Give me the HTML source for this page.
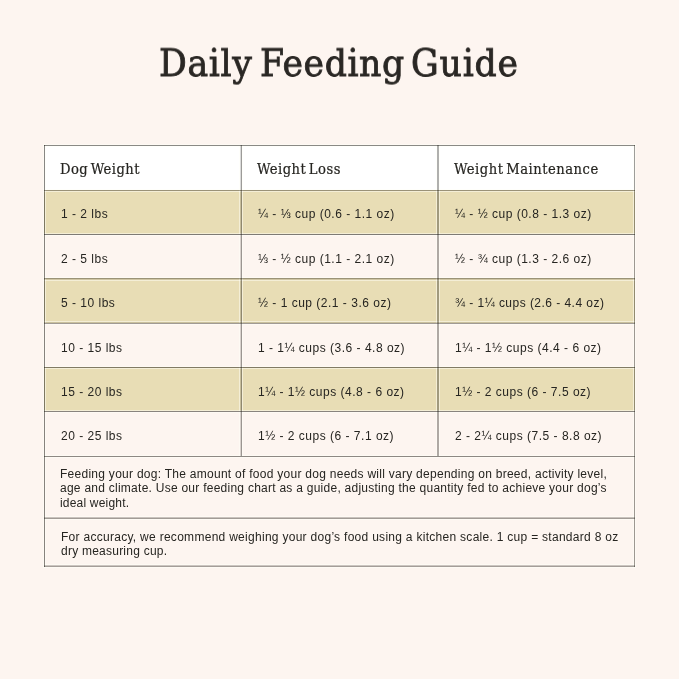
<!DOCTYPE html>
<html>
<head>
<meta charset="utf-8">
<title>Daily Feeding Guide</title>
<style>
html,body{margin:0;padding:0;}
body{width:679px;height:679px;background:#fdf5f0;position:relative;overflow:hidden;}
.a{position:absolute;}
.h{position:absolute;height:1px;background:#6e6b66;}
.v{position:absolute;width:1px;background:#6e6b66;}
.t{position:absolute;white-space:nowrap;will-change:transform;line-height:20px;}
.s{font-family:"Liberation Sans",Arial,sans-serif;font-size:12px;letter-spacing:0.5px;color:#262521;}
.f{font-family:"DejaVu Serif Condensed","DejaVu Serif",serif;font-stretch:condensed;-webkit-text-stroke:0.2px #262521;word-spacing:-2px;font-size:14.6px;letter-spacing:0.3px;color:#262521;}
.ti{font-family:"DejaVu Serif Condensed","DejaVu Serif",serif;font-stretch:condensed;font-size:38.5px;letter-spacing:0.0px;color:#2a2724;-webkit-text-stroke:0.8px #2a2724;line-height:60px;transform:scaleY(0.953);transform-origin:0 43px;}
</style>
</head>
<body>
<h1 style="margin:0;font-weight:normal;font-size:38.5px"><span class="t ti" style="left:159.2px;top:33.0px;letter-spacing:0.675px">Daily</span> <span class="t ti" style="left:259.5px;top:33.0px;letter-spacing:0.583px">Feeding</span> <span class="t ti" style="left:411.4px;top:33.0px;letter-spacing:0.825px">Guide</span></h1>
<div class="a" style="left:44px;top:145px;width:591px;height:45px;background:#fff"></div>
<div class="a" style="left:44px;top:190px;width:591px;height:44px;background:#e8ddb5"></div>
<div class="a" style="left:44px;top:278px;width:591px;height:45px;background:#e8ddb5"></div>
<div class="a" style="left:44px;top:367px;width:591px;height:44px;background:#e8ddb5"></div>
<div class="a" style="left:43px;top:144px;width:593px;height:1px;background:rgba(255,255,248,0.5)"></div>
<div class="a" style="left:43px;top:146px;width:593px;height:1px;background:rgba(255,255,248,0.5)"></div>
<div class="a" style="left:43px;top:189px;width:593px;height:1px;background:rgba(255,255,248,0.5)"></div>
<div class="a" style="left:43px;top:191px;width:593px;height:1px;background:rgba(255,255,248,0.5)"></div>
<div class="a" style="left:43px;top:233px;width:593px;height:1px;background:rgba(255,255,248,0.5)"></div>
<div class="a" style="left:43px;top:235px;width:593px;height:1px;background:rgba(255,255,248,0.5)"></div>
<div class="a" style="left:43px;top:277px;width:593px;height:1px;background:rgba(255,255,248,0.5)"></div>
<div class="a" style="left:43px;top:280px;width:593px;height:1px;background:rgba(255,255,248,0.5)"></div>
<div class="a" style="left:43px;top:321px;width:593px;height:1px;background:rgba(255,255,248,0.5)"></div>
<div class="a" style="left:43px;top:324px;width:593px;height:1px;background:rgba(255,255,248,0.5)"></div>
<div class="a" style="left:43px;top:366px;width:593px;height:1px;background:rgba(255,255,248,0.5)"></div>
<div class="a" style="left:43px;top:368px;width:593px;height:1px;background:rgba(255,255,248,0.5)"></div>
<div class="a" style="left:43px;top:410px;width:593px;height:1px;background:rgba(255,255,248,0.5)"></div>
<div class="a" style="left:43px;top:412px;width:593px;height:1px;background:rgba(255,255,248,0.5)"></div>
<div class="a" style="left:43px;top:455px;width:593px;height:1px;background:rgba(255,255,248,0.5)"></div>
<div class="a" style="left:43px;top:457px;width:593px;height:1px;background:rgba(255,255,248,0.5)"></div>
<div class="a" style="left:43px;top:516px;width:593px;height:1px;background:rgba(255,255,248,0.5)"></div>
<div class="a" style="left:43px;top:519px;width:593px;height:1px;background:rgba(255,255,248,0.5)"></div>
<div class="a" style="left:43px;top:564px;width:593px;height:1px;background:rgba(255,255,248,0.5)"></div>
<div class="a" style="left:43px;top:567px;width:593px;height:1px;background:rgba(255,255,248,0.5)"></div>
<div class="a" style="left:43px;top:144px;width:1px;height:424px;background:rgba(255,255,248,0.5)"></div>
<div class="a" style="left:45px;top:144px;width:1px;height:424px;background:rgba(255,255,248,0.5)"></div>
<div class="a" style="left:633px;top:144px;width:1px;height:424px;background:rgba(255,255,248,0.5)"></div>
<div class="a" style="left:635px;top:144px;width:1px;height:424px;background:rgba(255,255,248,0.5)"></div>
<div class="a" style="left:239px;top:146px;width:1px;height:310px;background:rgba(255,255,248,0.5)"></div>
<div class="a" style="left:242px;top:146px;width:1px;height:310px;background:rgba(255,255,248,0.5)"></div>
<div class="a" style="left:436px;top:146px;width:1px;height:310px;background:rgba(255,255,248,0.5)"></div>
<div class="a" style="left:439px;top:146px;width:1px;height:310px;background:rgba(255,255,248,0.5)"></div>
<div class="a" style="left:44px;top:145px;width:591px;height:1px;background:rgba(30,28,22,0.52)"></div>
<div class="a" style="left:44px;top:190px;width:591px;height:1px;background:rgba(30,28,22,0.39)"></div>
<div class="a" style="left:44px;top:234px;width:591px;height:1px;background:rgba(30,28,22,0.57)"></div>
<div class="a" style="left:44px;top:278px;width:591px;height:1px;background:rgba(30,28,22,0.385)"></div>
<div class="a" style="left:44px;top:279px;width:591px;height:1px;background:rgba(30,28,22,0.12)"></div>
<div class="a" style="left:44px;top:322px;width:591px;height:1px;background:rgba(30,28,22,0.15)"></div>
<div class="a" style="left:44px;top:323px;width:591px;height:1px;background:rgba(30,28,22,0.42)"></div>
<div class="a" style="left:44px;top:367px;width:591px;height:1px;background:rgba(30,28,22,0.51)"></div>
<div class="a" style="left:44px;top:411px;width:591px;height:1px;background:rgba(30,28,22,0.52)"></div>
<div class="a" style="left:44px;top:456px;width:591px;height:1px;background:rgba(30,28,22,0.5)"></div>
<div class="a" style="left:44px;top:517px;width:591px;height:1px;background:rgba(30,28,22,0.23)"></div>
<div class="a" style="left:44px;top:518px;width:591px;height:1px;background:rgba(30,28,22,0.41)"></div>
<div class="a" style="left:44px;top:565px;width:591px;height:1px;background:rgba(30,28,22,0.22)"></div>
<div class="a" style="left:44px;top:566px;width:591px;height:1px;background:rgba(30,28,22,0.4)"></div>
<div class="a" style="left:44px;top:145px;width:1px;height:422px;background:rgba(30,28,22,0.53)"></div>
<div class="a" style="left:634px;top:145px;width:1px;height:422px;background:rgba(30,28,22,0.43)"></div>
<div class="a" style="left:240px;top:145px;width:1px;height:311px;background:rgba(30,28,22,0.16)"></div>
<div class="a" style="left:241px;top:145px;width:1px;height:311px;background:rgba(30,28,22,0.44)"></div>
<div class="a" style="left:437px;top:145px;width:1px;height:311px;background:rgba(30,28,22,0.35)"></div>
<div class="a" style="left:438px;top:145px;width:1px;height:311px;background:rgba(30,28,22,0.35)"></div>
<div class="t f" style="left:60.0px;top:159.10px;letter-spacing:0.45px">Dog Weight</div>
<div class="t f" style="left:257.4px;top:159.10px;letter-spacing:0.47px">Weight Loss</div>
<div class="t f" style="left:454.1px;top:159.10px;letter-spacing:0.52px">Weight Maintenance</div>
<div class="t s" style="left:60.7px;top:204.00px">1 - 2 lbs</div>
<div class="t s" style="left:257.7px;top:204.00px">¼ - ⅓ cup (0.6 - 1.1 oz)</div>
<div class="t s" style="left:454.6px;top:204.00px">¼ - ½ cup (0.8 - 1.3 oz)</div>
<div class="t s" style="left:60.7px;top:248.60px">2 - 5 lbs</div>
<div class="t s" style="left:257.7px;top:248.60px">⅓ - ½ cup (1.1 - 2.1 oz)</div>
<div class="t s" style="left:454.6px;top:248.60px">½ - ¾ cup (1.3 - 2.6 oz)</div>
<div class="t s" style="left:60.7px;top:293.00px">5 - 10 lbs</div>
<div class="t s" style="left:257.7px;top:293.00px">½ - 1 cup (2.1 - 3.6 oz)</div>
<div class="t s" style="left:454.6px;top:293.00px;letter-spacing:0.46px">¾ - 1¼ cups (2.6 - 4.4 oz)</div>
<div class="t s" style="left:60.7px;top:337.50px">10 - 15 lbs</div>
<div class="t s" style="left:257.7px;top:337.50px">1 - 1¼ cups (3.6 - 4.8 oz)</div>
<div class="t s" style="left:454.6px;top:337.50px">1¼ - 1½ cups (4.4 - 6 oz)</div>
<div class="t s" style="left:60.7px;top:381.60px">15 - 20 lbs</div>
<div class="t s" style="left:257.7px;top:381.60px">1¼ - 1½ cups (4.8 - 6 oz)</div>
<div class="t s" style="left:454.6px;top:381.60px">1½ - 2 cups (6 - 7.5 oz)</div>
<div class="t s" style="left:60.7px;top:426.00px">20 - 25 lbs</div>
<div class="t s" style="left:257.7px;top:426.00px">1½ - 2 cups (6 - 7.1 oz)</div>
<div class="t s" style="left:454.6px;top:426.00px">2 - 2¼ cups (7.5 - 8.8 oz)</div>
<div class="t s" style="left:60.4px;top:463.70px;letter-spacing:0.271px">Feeding your dog: The amount of food your dog needs will vary depending on breed, activity level,</div>
<div class="t s" style="left:60.4px;top:478.40px;letter-spacing:0.256px">age and climate. Use our feeding chart as a guide, adjusting the quantity fed to achieve your dog’s</div>
<div class="t s" style="left:60.4px;top:493.10px;letter-spacing:0.192px">ideal weight.</div>
<div class="t s" style="left:60.7px;top:526.50px;letter-spacing:0.284px">For accuracy, we recommend weighing your dog’s food using a kitchen scale. 1 cup = standard 8 oz</div>
<div class="t s" style="left:60.7px;top:541.30px;letter-spacing:0.235px">dry measuring cup.</div>
</body>
</html>
